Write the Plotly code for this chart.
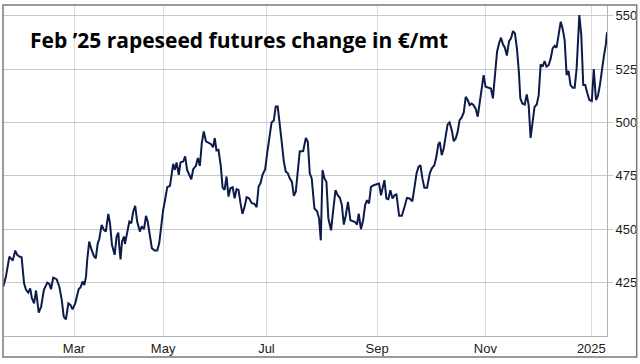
import plotly.graph_objects as go

# trading-session index (x) and price in EUR/mt (y)
session = [0.1,1.2,2.6,4.0,5.0,5.8,6.7,7.6,8.6,9.4,10.3,11.1,11.8,12.7,13.5,14.6,15.6,16.7,18.1,18.9,
           19.6,20.5,21.9,23.0,24.0,24.8,25.7,26.7,27.6,28.4,29.5,30.9,31.7,32.5,33.2,33.9,34.4,35.2,36.2,37.1,
           37.9,38.7,39.3,40.3,41.2,42.0,43.0,43.7,44.5,45.6,46.4,47.1,47.5,48.0,48.6,49.4,49.8,50.7,51.6,52.4,
           53.2,54.0,54.8,55.9,56.7,57.6,58.4,59.1,60.0,60.8,61.9,63.0,63.8,64.6,65.4,66.2,67.1,68.2,69.0,69.5,
           70.2,70.9,71.8,72.5,73.6,74.4,75.2,76.0,76.9,77.7,78.8,79.6,80.4,81.2,82.0,82.9,84.0,85.0,85.8,86.5,
           87.2,88.0,88.9,89.7,90.5,91.3,92.1,92.9,93.8,94.6,95.4,96.2,97.0,97.8,98.7,99.5,100.5,101.6,102.7,103.6,
           104.4,105.2,106.0,107.1,107.9,108.7,109.7,110.6,111.4,112.2,113.1,113.9,114.7,115.5,116.3,117.1,118.0,118.8,119.6,120.4,
           121.2,122.6,123.7,124.5,125.3,126.1,127.2,128.3,129.1,129.8,130.5,131.3,132.1,132.9,134.0,134.8,135.8,136.7,137.6,138.4,
           139.2,140.0,140.9,141.9,143.0,143.8,144.6,145.3,146.2,147.1,147.9,148.7,149.5,150.3,151.4,152.5,153.6,154.4,155.2,155.8,
           156.6,157.4,158.2,159.1,159.9,160.7,161.8,162.9,164.0,165.0,166.1,167.2,168.0,168.9,169.7,170.5,171.3,172.1,173.2,174.3,
           175.1,176.2,177.0,177.8,178.4,179.2,180.0,180.8,181.6,182.4,183.3,184.1,184.9,185.7,186.5,187.3,188.2,189.0,189.8,190.6,
           191.4,192.2,193.1,193.9,194.7,195.5,196.3,197.1,198.2,199.3,200.1,200.9,201.8,202.6,203.4,204.2,205.0,205.8,206.7,207.5,
           208.3,209.1,209.9,210.7,211.3,212.1,213.1,213.9,214.7,215.5,216.3,217.1,218.0,218.8,219.6,220.4,221.2,222.0,222.9,223.7,
           224.5,225.3,226.1,226.9,227.8,228.6,229.4,230.2,231.0,231.8,232.7,233.5,234.3,235.4,236.2,237.0,237.8,238.7,239.5,240.5,
           241.3,242.2,243.0,243.8,244.6,245.4,246.2,246.7]

price = [423.1,427.8,437.2,435.3,440.0,438.0,437.2,436.9,424.7,421.6,420.3,422.3,417.7,415.3,421.3,410.9,413.8,421.6,425.0,424.4,
         421.9,427.3,426.6,423.1,416.9,409.1,407.8,415.3,414.5,412.5,415.3,421.9,422.8,425.5,423.9,427.8,435.6,444.2,440.3,437.5,
         436.4,443.4,445.3,452.0,449.7,448.9,457.2,452.8,442.7,438.0,446.6,448.4,441.9,435.9,444.2,446.6,443.1,448.9,453.6,452.8,
         458.3,460.9,453.6,448.9,451.3,450.0,456.3,453.6,446.6,441.1,440.0,440.0,443.4,452.8,458.8,463.8,469.7,470.3,478.1,480.6,
         477.8,481.3,475.5,481.3,481.7,484.1,477.8,475.9,473.4,478.1,479.7,483.3,479.7,490.3,495.8,491.1,490.3,489.8,488.4,492.7,
         486.9,487.2,480.2,469.5,468.4,474.7,465.3,469.2,469.7,464.5,468.8,468.4,462.2,457.2,460.6,465.0,464.5,462.2,461.9,460.3,
         470.0,471.6,475.5,478.1,485.6,491.9,500.0,500.9,507.5,507.5,499.7,490.3,481.7,477.0,476.3,473.9,472.3,465.6,467.7,476.3,
         486.4,486.6,492.8,490.9,476.1,473.8,459.7,458.4,455.0,444.8,477.7,473.8,472.2,455.0,449.5,458.1,468.3,465.9,464.7,461.3,
         452.2,456.3,462.8,454.2,453.8,453.4,452.2,457.3,450.0,454.2,461.3,463.6,462.1,469.8,470.6,470.9,471.4,465.9,469.8,473.0,
         464.4,464.1,468.3,464.4,465.9,466.3,456.3,456.3,460.5,464.7,464.4,463.1,469.1,476.1,479.2,480.0,473.8,469.4,469.4,476.1,
         478.4,480.0,483.9,489.7,490.9,484.7,487.8,494.8,499.1,500.0,496.4,491.2,492.5,495.6,501.1,502.2,504.7,512.0,510.5,508.1,
         508.9,508.1,506.3,502.7,509.7,515.2,522.2,516.7,516.3,515.9,511.3,522.2,533.1,537.0,539.7,536.6,535.0,531.3,538.1,539.4,
         542.8,541.7,534.7,523.8,511.3,508.9,508.4,513.1,508.1,492.8,500.3,507.3,508.4,512.8,527.2,526.1,528.8,526.1,526.9,530.0,
         534.7,535.9,535.0,541.7,547.2,543.8,538.6,522.2,524.1,517.5,516.3,516.3,525.3,550.3,540.9,517.5,517.5,513.6,510.5,510.0,
         525.0,510.5,512.5,517.5,525.3,530.8,536.3,542.2]

tick_sessions = [29, 65.4, 107.6, 152.8, 197, 240.3]
tick_labels = ["Mar", "May", "Jul", "Sep", "Nov", "2025"]
y_ticks = [425, 450, 475, 500, 525, 550]

title_text = "Feb \u201925 rapeseed futures change in \u20ac/mt"

fig = go.Figure()
fig.add_trace(go.Scatter(
    x=session, y=price, mode="lines",
    line=dict(color="#0d1b4b", width=2),
    hoverinfo="skip", showlegend=False,
))

fig.update_layout(
    width=640, height=364,
    margin=dict(l=3, r=33, t=5, b=28),
    paper_bgcolor="white", plot_bgcolor="white",
    font=dict(family="Liberation Sans, Arial, sans-serif", size=13, color="#222222"),
    xaxis=dict(
        range=[0, 246.7], tickvals=tick_sessions, ticktext=tick_labels,
        showgrid=True, gridcolor="#dadada", gridwidth=1,
        showline=True, linecolor="#b4b4b4", linewidth=1,
        ticks="", zeroline=False, fixedrange=True,
        tickfont=dict(size=13, color="#1a1a1a"),
    ),
    yaxis=dict(
        range=[400, 555], tickvals=y_ticks, side="right",
        showgrid=True, gridcolor="#c8c8c8", gridwidth=1,
        showline=True, linecolor="#b4b4b4", linewidth=1,
        ticks="outside", ticklen=5, tickcolor="#c8c8c8",
        zeroline=False, fixedrange=True,
        tickfont=dict(size=13, color="#1a1a1a"),
    ),
    annotations=[dict(
        text="<b>" + title_text + "</b>", xref="paper", yref="paper",
        x=(28 - 3) / 604.3, y=(336 - 40) / 331, xanchor="left", yanchor="middle",
        showarrow=False, font=dict(family="Open Sans, Lato, sans-serif", size=21, color="#000000"),
    )],
    shapes=[dict(
        type="rect", xref="paper", yref="paper",
        x0=0, x1=(637 - 3) / 604.3, y0=(336 - 357) / 331, y1=1,
        line=dict(color="#7a7a7a", width=1.5), layer="above",
    )],
)

fig.write_html(
    "out.html",
    config={"displayModeBar": False, "staticPlot": True},
    post_script="document.body.style.margin='0';document.body.style.overflow='hidden';",
)
